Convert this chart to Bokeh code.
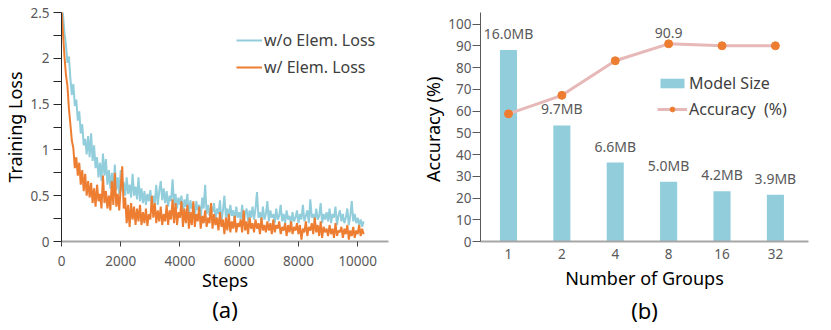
from bokeh.plotting import figure
from bokeh.layouts import row
from bokeh.models import Range1d, FixedTicker, Legend, LegendItem, Title
from bokeh.core.properties import value
from bokeh.embed import file_html
from bokeh.resources import INLINE

FONT = "Noto Sans"
BLUE = "#92CDDC"
ORANGE = "#ED7D31"
PINK = "#E6B8B7"
TICK_TXT = "#595959"

# ---------------- panel (a) data ----------------
steps = list(range(0, 10201, 50))
loss_wo = [
    2.62, 2.48, 2.28, 2.15, 1.95, 2.02, 1.78, 1.60, 1.72, 1.48,
    1.55, 1.32, 1.42, 1.18, 1.28, 1.05, 1.12, 0.95, 1.15, 0.92,
    1.18, 0.88, 1.05, 0.80, 0.92, 0.70, 0.86, 0.66, 0.96, 0.72,
    0.90, 0.62, 0.78, 0.58, 0.75, 0.55, 0.84, 0.56, 0.70, 0.52,
    0.78, 0.55, 0.65, 0.50, 0.70, 0.52, 0.62, 0.48, 0.74, 0.50,
    0.60, 0.46, 0.70, 0.44, 0.58, 0.42, 0.55, 0.40, 0.52, 0.44,
    0.56, 0.38, 0.50, 0.42, 0.62, 0.40, 0.55, 0.66, 0.45, 0.58,
    0.42, 0.55, 0.38, 0.50, 0.44, 0.68, 0.40, 0.52, 0.36, 0.48,
    0.40, 0.50, 0.30, 0.46, 0.38, 0.52, 0.28, 0.45, 0.36, 0.42,
    0.26, 0.44, 0.34, 0.40, 0.24, 0.48, 0.36, 0.62, 0.30, 0.40,
    0.28, 0.38, 0.32, 0.42, 0.24, 0.36, 0.30, 0.45, 0.22, 0.34,
    0.50, 0.26, 0.36, 0.24, 0.40, 0.28, 0.34, 0.22, 0.38, 0.26,
    0.32, 0.24, 0.40, 0.22, 0.30, 0.36, 0.22, 0.34, 0.26, 0.38,
    0.24, 0.36, 0.54, 0.26, 0.32, 0.22, 0.38, 0.24, 0.30, 0.44,
    0.22, 0.34, 0.26, 0.30, 0.20, 0.36, 0.24, 0.28, 0.40, 0.22,
    0.30, 0.20, 0.34, 0.24, 0.28, 0.18, 0.32, 0.22, 0.26, 0.34,
    0.20, 0.30, 0.24, 0.40, 0.22, 0.28, 0.34, 0.20, 0.46, 0.26,
    0.30, 0.22, 0.36, 0.24, 0.28, 0.42, 0.20, 0.30, 0.24, 0.32,
    0.22, 0.36, 0.20, 0.30, 0.26, 0.38, 0.18, 0.28, 0.34, 0.22,
    0.30, 0.20, 0.26, 0.36, 0.18, 0.28, 0.44, 0.22, 0.30, 0.20,
    0.26, 0.18, 0.24, 0.16, 0.22,
]
loss_w = [
    2.55, 2.28, 2.02, 1.82, 1.70, 1.45, 1.28, 1.10, 1.02, 0.80,
    0.92, 0.72, 0.86, 0.62, 0.78, 0.55, 0.74, 0.50, 0.66, 0.48,
    0.64, 0.42, 0.58, 0.38, 0.62, 0.44, 0.52, 0.36, 0.72, 0.42,
    0.55, 0.36, 0.50, 0.34, 0.66, 0.40, 0.75, 0.38, 0.52, 0.34,
    0.60, 0.82, 0.36, 0.48, 0.20, 0.40, 0.16, 0.42, 0.24, 0.38,
    0.18, 0.36, 0.22, 0.40, 0.18, 0.32, 0.20, 0.36, 0.17, 0.30,
    0.24, 0.50, 0.26, 0.42, 0.20, 0.34, 0.22, 0.38, 0.18, 0.30,
    0.22, 0.40, 0.18, 0.34, 0.24, 0.46, 0.20, 0.42, 0.18, 0.32,
    0.26, 0.44, 0.16, 0.36, 0.20, 0.40, 0.14, 0.32, 0.18, 0.44,
    0.16, 0.30, 0.22, 0.38, 0.14, 0.28, 0.20, 0.34, 0.16, 0.26,
    0.20, 0.42, 0.14, 0.30, 0.18, 0.26, 0.12, 0.32, 0.16, 0.24,
    0.08, 0.26, 0.12, 0.30, 0.10, 0.22, 0.14, 0.28, 0.10, 0.20,
    0.16, 0.24, 0.10, 0.34, 0.12, 0.22, 0.08, 0.26, 0.14, 0.20,
    0.10, 0.24, 0.14, 0.20, 0.08, 0.26, 0.12, 0.18, 0.10, 0.22,
    0.12, 0.20, 0.08, 0.24, 0.10, 0.18, 0.14, 0.22, 0.08, 0.16,
    0.12, 0.20, 0.06, 0.18, 0.10, 0.22, 0.08, 0.16, 0.12, 0.20,
    0.08, 0.18, 0.02, 0.14, 0.10, 0.22, 0.06, 0.16, 0.12, 0.20,
    0.08, 0.26, 0.10, 0.18, 0.06, 0.22, 0.04, 0.16, 0.10, 0.14,
    0.06, 0.18, 0.08, 0.14, 0.04, 0.20, 0.06, 0.12, 0.10, 0.16,
    0.04, 0.14, 0.08, 0.18, 0.02, 0.12, 0.06, 0.16, 0.04, 0.12,
    0.08, 0.18, 0.06, 0.14, 0.08,
]
x_ticks_a = [0, 2000, 4000, 6000, 8000, 10000]
y_ticks_a = [0, 0.5, 1, 1.5, 2, 2.5]
y_minor_a = [0.25, 0.75, 1.25, 1.75, 2.25]
y_labels_a = ["0", "0.5", "1", "1.5", "2", "2.5"]

# ---------------- panel (b) data ----------------
groups = ["1", "2", "4", "8", "16", "32"]
size_mb = [16.0, 9.7, 6.6, 5.0, 4.2, 3.9]
accuracy = [58.7, 67.2, 83.1, 90.9, 90.0, 90.0]
y_ticks_b = [0, 10, 20, 30, 40, 50, 60, 70, 80, 90, 100]
SIZE_SCALE = 5.5  # bar height (axis units) per MB, as drawn in the original


def style_axis_common(ax):
    ax.major_label_text_font = FONT
    ax.major_label_text_font_size = "13.5px"
    ax.major_label_text_color = TICK_TXT
    ax.axis_label_text_font = FONT
    ax.axis_label_text_font_size = "18px"
    ax.axis_label_text_font_style = "normal"
    ax.axis_label_text_color = "black"


# ================= Panel (a) =================
pa = figure(width=418, height=324, output_backend="svg", toolbar_location=None,
            x_range=Range1d(0, 11040), y_range=Range1d(0, 2.5),
            min_border_left=60, min_border_right=30, min_border_top=12,
            min_border_bottom=81)
pa.outline_line_color = None
pa.grid.visible = False
pa.background_fill_color = None
pa.border_fill_color = None

r_wo = pa.line(steps, loss_wo, line_color=BLUE, line_width=2)
r_w = pa.line(steps, loss_w, line_color=ORANGE, line_width=2)

xa = pa.xaxis[0]
xa.ticker = FixedTicker(ticks=x_ticks_a)
style_axis_common(xa)
xa.axis_line_color = "#A6A6A6"
xa.axis_line_width = 2
xa.major_tick_out = 5
xa.major_tick_in = 0
xa.major_tick_line_color = "#404040"
xa.minor_tick_line_color = None
xa.major_label_standoff = 9
xa.axis_label = "Steps"
xa.axis_label_standoff = -1

ya = pa.yaxis[0]
ya.ticker = FixedTicker(ticks=y_ticks_a, minor_ticks=y_minor_a)
ya.major_label_overrides = {t: s for t, s in zip(y_ticks_a, y_labels_a)}
style_axis_common(ya)
ya.axis_line_color = "#262626"
ya.major_tick_line_color = "#262626"
ya.minor_tick_line_color = "#262626"
ya.major_tick_out = 8
ya.major_tick_in = 0
ya.minor_tick_out = 8
ya.minor_tick_in = 0
ya.major_label_standoff = 4
ya.axis_label = "Training Loss"
ya.axis_label_standoff = 0

leg_a = Legend(items=[LegendItem(label="w/o Elem. Loss", renderers=[r_wo]),
                      LegendItem(label="w/ Elem. Loss", renderers=[r_w])],
               location=(175, 163), glyph_width=26, glyph_height=20,
               label_height=20, spacing=5, padding=0, margin=0,
               label_standoff=2, border_line_color=None,
               background_fill_alpha=0,
               label_text_font=FONT, label_text_font_size="16px",
               label_text_color="#404040")
pa.add_layout(leg_a)
pa.add_layout(Title(text="(a)", align="center", text_font=FONT,
                    text_font_size="22px", text_font_style="normal",
                    text_color="black", standoff=-6), "below")

# ================= Panel (b) =================
x_pos = list(range(len(groups)))
bar_heights = [m * SIZE_SCALE for m in size_mb]
size_labels = [f"{m:.1f}MB" for m in size_mb]

pb = figure(width=413, height=324, output_backend="svg", toolbar_location=None,
            x_range=Range1d(-0.524, 5.62), y_range=Range1d(0, 105.3),
            min_border_left=62, min_border_right=23, min_border_top=11,
            min_border_bottom=82)
pb.outline_line_color = None
pb.grid.visible = False
pb.background_fill_color = None
pb.border_fill_color = None

bars = pb.vbar(x=x_pos, top=bar_heights, width=0.32, fill_color=BLUE,
               line_color=None)
acc_line = pb.line(x_pos, accuracy, line_color=PINK, line_width=3)
acc_pts = pb.scatter(x_pos, accuracy, size=8, fill_color=ORANGE,
                     line_color=ORANGE)

pb.text(x=x_pos, y=bar_heights, text=size_labels, text_align="center",
        text_baseline="middle", y_offset=-16.5, text_font=value(FONT),
        text_font_size="14px", text_color=TICK_TXT)
best = accuracy.index(max(accuracy))
pb.text(x=[x_pos[best]], y=[accuracy[best]], text=[f"{accuracy[best]:.1f}"],
        text_align="center", text_baseline="middle", y_offset=-11,
        text_font=value(FONT), text_font_size="14px", text_color=TICK_TXT)

xb = pb.xaxis[0]
xb.ticker = FixedTicker(ticks=x_pos)
xb.major_label_overrides = {i: g for i, g in zip(x_pos, groups)}
style_axis_common(xb)
xb.axis_line_color = "#A6A6A6"
xb.axis_line_width = 2
xb.major_tick_line_color = None
xb.minor_tick_line_color = None
xb.major_tick_out = 0
xb.major_tick_in = 0
xb.major_label_standoff = 7
xb.axis_label = "Number of Groups"
xb.axis_label_standoff = 4

yb = pb.yaxis[0]
yb.ticker = FixedTicker(ticks=y_ticks_b)
style_axis_common(yb)
yb.axis_line_color = "#595959"
yb.major_tick_line_color = "#595959"
yb.minor_tick_line_color = None
yb.major_tick_out = 8
yb.major_tick_in = 0
yb.major_label_standoff = 1
yb.axis_label = "Accuracy  (%)"
yb.axis_label_standoff = 0

leg_b = Legend(items=[LegendItem(label="Model Size", renderers=[bars]),
                      LegendItem(label="Accuracy  (%)",
                                 renderers=[acc_line, acc_pts])],
               location=(177, 121), glyph_width=30, glyph_height=12,
               label_height=20, spacing=4, padding=0, margin=0,
               label_standoff=2, border_line_color=None,
               background_fill_alpha=0,
               label_text_font=FONT, label_text_font_size="16px",
               label_text_color="#404040")
pb.add_layout(leg_b)
pb.add_layout(Title(text="(b)", align="center", text_font=FONT,
                    text_font_size="22px", text_font_style="normal",
                    text_color="black", standoff=0), "below")

layout = row(pa, pb)
open("out.html", "w").write(file_html(layout, INLINE))
